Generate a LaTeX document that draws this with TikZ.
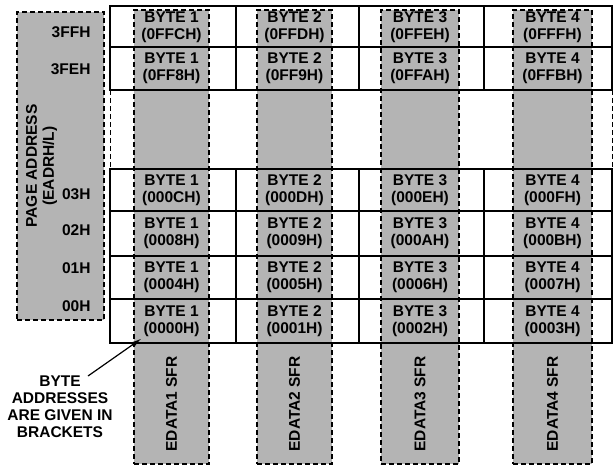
\documentclass[tikz,border=0pt]{standalone}
\usepackage{fontspec}
\setmainfont{Liberation Sans}
\usetikzlibrary{arrows.meta}
\definecolor{sfrgray}{HTML}{B4B4B4}
\definecolor{ink}{HTML}{000000}
\tikzset{
  cellfont/.style={font=\bfseries\fontsize{15.5}{17}\selectfont,text=ink},
  gridline/.style={draw=ink,line width=1.2pt},
  dashbox/.style={draw=ink,line width=1.5pt,dash pattern=on 5pt off 3pt},
  gapedge/.style={draw=ink,line width=1pt,dash pattern=on 5pt off 3pt},
  pagebox/.style={dashbox,fill=sfrgray,minimum width=87pt,minimum height=308pt,inner sep=0pt},
  sfrcol/.style={dashbox,fill=sfrgray,minimum height=454pt,inner sep=0pt},
  cell/.style={cellfont,align=center,inner sep=2pt},
  rowaddr/.style={cellfont,anchor=east},
  sfrname/.style={cellfont,rotate=90},
  note/.style={cellfont,align=center},
  pointer/.style={-{Latex[length=11pt,width=6pt]},draw=ink,line width=1.2pt},
}
\begin{document}
\begin{tikzpicture}[x=1pt,y=-1pt]
\useasboundingbox (0,0) rectangle (613,466);

\node[pagebox] (page) at (60.5,166) {};
\node[cellfont,rotate=90,align=center] (pagetitle) at (41.5,166) {PAGE ADDRESS\\(EADRH/L)};

\node[sfrcol,minimum width=75pt] (col1) at (171.5,237) {};
\node[sfrcol,minimum width=75pt] (col2) at (294.5,237) {};
\node[sfrcol,minimum width=78pt] (col3) at (420,237) {};
\node[sfrcol,minimum width=79pt] (col4) at (552.5,237) {};

\draw[gridline] (110,6) rectangle (612,90);
\draw[gridline] (110,47) -- (612,47);
\draw[gridline] (110,169) rectangle (612,343);
\draw[gridline] (110,211) -- (612,211) (110,256) -- (612,256) (110,299) -- (612,299);
\draw[gridline] (236,6) -- (236,90) (359,6) -- (359,90) (484,6) -- (484,90);
\draw[gridline] (236,169) -- (236,343) (359,169) -- (359,343) (484,169) -- (484,343);
\draw[gapedge] (110,90) -- (110,169) (612,90) -- (612,169);

\node[rowaddr] (p3ff) at (94,32) {3FFH};
\node[rowaddr] (p3fe) at (94,69) {3FEH};
\node[rowaddr] (p03) at (94,194) {03H};
\node[rowaddr] (p02) at (94,230) {02H};
\node[rowaddr] (p01) at (94,268) {01H};
\node[rowaddr] (p00) at (94,306) {00H};

\node[cell] (bffc) at (171.5,27) {BYTE 1\\(0FFCH)};
\node[cell] (bffd) at (294.5,27) {BYTE 2\\(0FFDH)};
\node[cell] (bffe) at (420,27) {BYTE 3\\(0FFEH)};
\node[cell] (bfff) at (552.5,27) {BYTE 4\\(0FFFH)};
\node[cell] (bff8) at (171.5,68.5) {BYTE 1\\(0FF8H)};
\node[cell] (bff9) at (294.5,68.5) {BYTE 2\\(0FF9H)};
\node[cell] (bffa) at (420,68.5) {BYTE 3\\(0FFAH)};
\node[cell] (bffb) at (552.5,68.5) {BYTE 4\\(0FFBH)};
\node[cell] (b0c) at (171.5,190) {BYTE 1\\(000CH)};
\node[cell] (b0d) at (294.5,190) {BYTE 2\\(000DH)};
\node[cell] (b0e) at (420,190) {BYTE 3\\(000EH)};
\node[cell] (b0f) at (552.5,190) {BYTE 4\\(000FH)};
\node[cell] (b08) at (171.5,233.5) {BYTE 1\\(0008H)};
\node[cell] (b09) at (294.5,233.5) {BYTE 2\\(0009H)};
\node[cell] (b0a) at (420,233.5) {BYTE 3\\(000AH)};
\node[cell] (b0b) at (552.5,233.5) {BYTE 4\\(000BH)};
\node[cell] (b04) at (171.5,277.5) {BYTE 1\\(0004H)};
\node[cell] (b05) at (294.5,277.5) {BYTE 2\\(0005H)};
\node[cell] (b06) at (420,277.5) {BYTE 3\\(0006H)};
\node[cell] (b07) at (552.5,277.5) {BYTE 4\\(0007H)};
\node[cell] (b00) at (171.5,321) {BYTE 1\\(0000H)};
\node[cell] (b01) at (294.5,321) {BYTE 2\\(0001H)};
\node[cell] (b02) at (420,321) {BYTE 3\\(0002H)};
\node[cell] (b03) at (552.5,321) {BYTE 4\\(0003H)};

\node[sfrname] (sfr1) at (171.5,404) {EDATA1 SFR};
\node[sfrname] (sfr2) at (294.5,404) {EDATA2 SFR};
\node[sfrname] (sfr3) at (420,404) {EDATA3 SFR};
\node[sfrname] (sfr4) at (552.5,404) {EDATA4 SFR};

\node[note] (bracketnote) at (60,407) {BYTE\\ADDRESSES\\ARE GIVEN IN\\BRACKETS};
\coordinate (notetail) at (88,376);
\draw[pointer] (notetail) -- (b00.south west);
\end{tikzpicture}
\end{document}
